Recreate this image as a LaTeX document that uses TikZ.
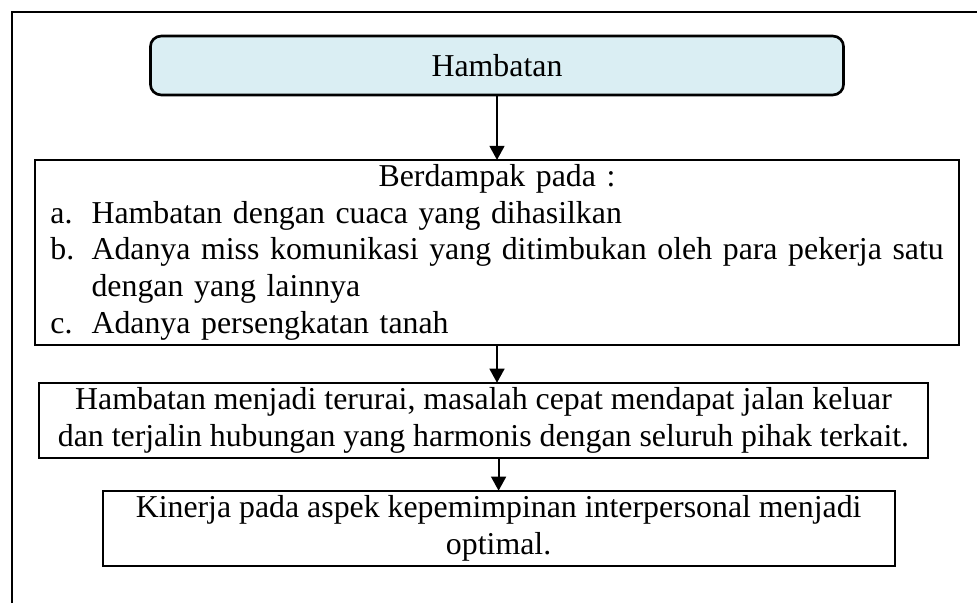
\documentclass[tikz,border=0pt]{standalone}
\usepackage{fontspec}
\setmainfont{Liberation Serif}
\usepackage{xcolor}
\usetikzlibrary{arrows.meta, positioning}

\definecolor{hambfill}{HTML}{DAEEF3}
\newcommand{\impactitem}[2]{\par\hangindent=19pt\hangafter=1\noindent\makebox[19pt][l]{\hspace{3.5pt}#1}#2}

\begin{document}
\begin{tikzpicture}[
    x=0.377pt, y=-0.377pt,
    every node/.style={font=\fontsize{12pt}{13.8pt}\selectfont},
    box/.style={draw, line width=0.75pt, outer sep=0pt, align=center},
    topbox/.style={box, rounded corners=4pt, fill=hambfill, line width=1pt,
                   minimum width=261.3pt, minimum height=22.2pt},
    arrow/.style={-{Triangle[width=5.6pt,length=5.3pt]}, line width=0.75pt}
]
\useasboundingbox (0,0) rectangle (977,603);

% outer frame, open to the right and bottom
\draw[line width=0.75pt] (12,603) -- (12,12) -- (977,12);

\node[topbox] (hamb) at (497,65.5) {Hambatan};
\node[box, below=24.5pt of hamb, text width=343.7pt, inner xsep=2.5pt, inner ysep=1pt,
      minimum height=69.7pt] (impact) {%
    {\centering Berdampak pada :\par}\rightskip=0pt plus 1fil\relax
    \impactitem{a.}{Hambatan dengan cuaca yang dihasilkan}
    \impactitem{b.}{Adanya miss komunikasi yang ditimbukan oleh para pekerja satu\newline dengan yang lainnya}
    \impactitem{c.}{Adanya persengkatan tanah}\par};
\node[box, below=14.3pt of impact, xshift=-5.1pt, minimum width=334.8pt,
      minimum height=28.3pt, inner ysep=0.3pt] (result)
    {Hambatan menjadi terurai, masalah cepat mendapat jalan keluar\\
     dan terjalin hubungan yang harmonis dengan seluruh pihak terkait.};
\node[box, below=12.4pt of result, xshift=5.7pt, minimum width=298.6pt,
      minimum height=28.3pt, inner ysep=0.3pt] (outcome)
    {Kinerja pada aspek kepemimpinan interpersonal menjadi\\optimal.};

\draw[arrow] (hamb) -- (impact);
\draw[arrow] (impact.south) -- (impact.south |- result.north);
\draw[arrow] (outcome.north |- result.south) -- (outcome);
\end{tikzpicture}
\end{document}
